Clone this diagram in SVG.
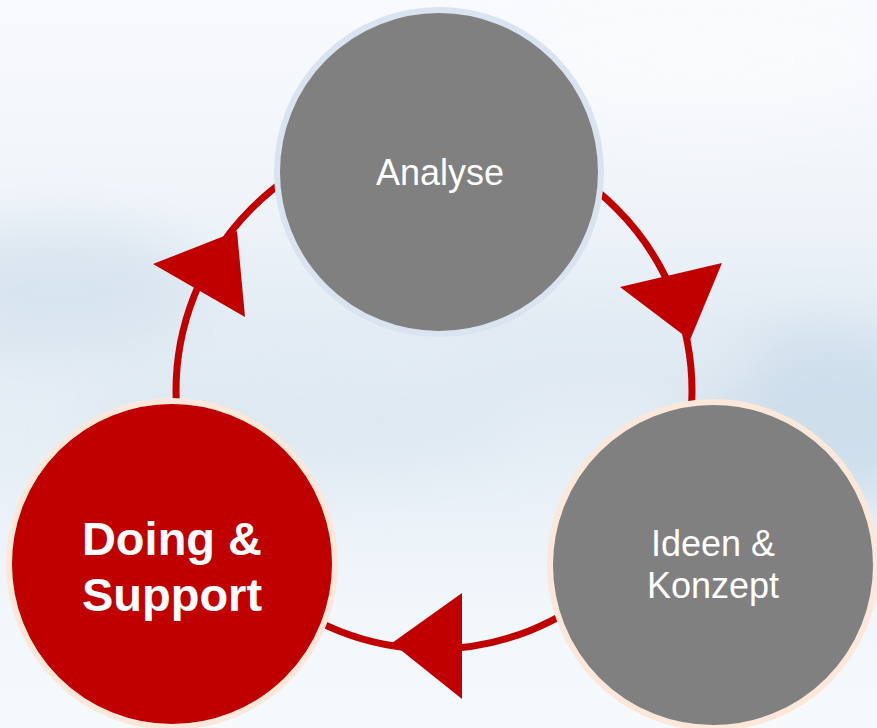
<svg xmlns="http://www.w3.org/2000/svg" width="877" height="728" viewBox="0 0 877 728">
  <defs>
    <linearGradient id="sky" x1="0" y1="0" x2="0" y2="1">
      <stop offset="0" stop-color="#f8fafd"/>
      <stop offset="0.25" stop-color="#f1f5fa"/>
      <stop offset="0.45" stop-color="#e3ecf4"/>
      <stop offset="0.62" stop-color="#e6eef6"/>
      <stop offset="0.85" stop-color="#f2f7fb"/>
      <stop offset="1" stop-color="#f6fafd"/>
    </linearGradient>
    <filter id="soft" x="-50%" y="-50%" width="200%" height="200%">
      <feGaussianBlur stdDeviation="28"/>
    </filter>
    <style>
      .ring { fill: none; stroke: #c00000; stroke-width: 7; }
      .head { fill: #c00000; }
      .grey { fill: #808080; }
      .red { fill: #c00000; }
      .edge-blue { stroke: #dae3f0; stroke-width: 6; }
      .edge-peach { stroke: #fce8da; stroke-width: 6; }
      .lbl { fill: #ffffff; font-family: "Liberation Sans", Arial, sans-serif; text-anchor: middle; }
      .lbl-n { font-size: 36px; }
      .lbl-b { font-size: 47px; font-weight: bold; }
    </style>
  </defs>

  <!-- sky background with soft cloud bands -->
  <rect x="0" y="0" width="877" height="728" fill="url(#sky)"/>
  <g filter="url(#soft)" opacity="0.85">
    <ellipse cx="60" cy="290" rx="140" ry="60" fill="#d6e3ee"/>
    <ellipse cx="300" cy="420" rx="220" ry="55" fill="#dde8f1"/>
    <ellipse cx="820" cy="420" rx="140" ry="90" fill="#cbdcea"/>
    <ellipse cx="600" cy="370" rx="160" ry="45" fill="#dfe9f2"/>
    <ellipse cx="700" cy="60" rx="200" ry="60" fill="#f9fbfd"/>
  </g>

  <!-- cycle connectors -->
  <g id="connectors">
    <circle class="ring" cx="434" cy="391" r="258"/>
    <polygon class="head" points="153,264 237,231 245,317"/>
    <polygon class="head" points="620,287 722,263 690,340"/>
    <polygon class="head" points="392,643 462,593 462,699"/>
  </g>

  <!-- nodes -->
  <g id="analyse">
    <circle class="grey edge-blue" cx="439" cy="172" r="162"/>
    <text class="lbl lbl-n" x="440" y="185">Analyse</text>
  </g>

  <g id="ideen-konzept">
    <circle class="grey edge-peach" cx="713" cy="565" r="163"/>
    <text class="lbl lbl-n" x="713" y="556">Ideen &amp;</text>
    <text class="lbl lbl-n" x="713" y="598">Konzept</text>
  </g>

  <g id="doing-support">
    <circle class="red edge-peach" cx="172" cy="564" r="163"/>
    <text class="lbl lbl-b" x="172" y="555">Doing &amp;</text>
    <text class="lbl lbl-b" x="172" y="611">Support</text>
  </g>
</svg>
